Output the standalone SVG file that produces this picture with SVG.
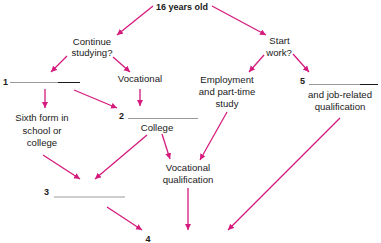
<svg xmlns="http://www.w3.org/2000/svg" width="381" height="243" viewBox="0 0 381 243">
  <style>
    .t { font-family: "Liberation Sans", Arial, sans-serif; font-size: 9.6px; fill: #1a1a1a; text-anchor: middle; }
    .n { font-family: "Liberation Sans", Arial, sans-serif; font-size: 9px; font-weight: bold; fill: #1a1a1a; }
    .blank { stroke: #9a9a9a; stroke-width: 1; }
    .blank-dark { stroke: #1a1a1a; stroke-width: 1; }
    .arrow { stroke: #d41a7c; stroke-width: 1.3; fill: none; marker-end: url(#head); }
  </style>
  <defs>
    <marker id="head" markerUnits="userSpaceOnUse" markerWidth="7" markerHeight="7" refX="6" refY="3" orient="auto">
      <path d="M0,0 L6,3 L0,6 z" fill="#d41a7c"/>
    </marker>
  </defs>
  <rect width="381" height="243" fill="#ffffff"/>

  <g id="connectors">
    <line class="arrow" x1="153" y1="6" x2="117" y2="35"/>
    <line class="arrow" x1="212" y1="6" x2="266" y2="35"/>
    <line class="arrow" x1="67" y1="56" x2="51" y2="72"/>
    <line class="arrow" x1="113" y1="57" x2="130" y2="72"/>
    <line class="arrow" x1="264" y1="55" x2="249" y2="72"/>
    <line class="arrow" x1="293" y1="54" x2="309" y2="72"/>
    <line class="arrow" x1="45" y1="89" x2="45" y2="108"/>
    <line class="arrow" x1="140" y1="89" x2="140" y2="106"/>
    <line class="arrow" x1="74" y1="90" x2="117" y2="108"/>
    <line class="arrow" x1="147" y1="135" x2="95" y2="179"/>
    <line class="arrow" x1="162" y1="134" x2="170" y2="159"/>
    <line class="arrow" x1="43" y1="155" x2="80" y2="179"/>
    <line class="arrow" x1="227" y1="112" x2="200" y2="160"/>
    <line class="arrow" x1="340" y1="118" x2="228" y2="230"/>
    <line class="arrow" x1="188" y1="188" x2="188" y2="230"/>
    <line class="arrow" x1="107" y1="207" x2="142" y2="230"/>
  </g>

  <g id="start">
    <text class="n" x="182" y="10" text-anchor="middle">16 years old</text>
  </g>

  <g id="continue-studying">
    <text class="t" x="92" y="44.5">Continue</text>
    <text class="t" x="92" y="56">studying?</text>
  </g>

  <g id="start-work">
    <text class="t" x="279.5" y="44">Start</text>
    <text class="t" x="279" y="56">work?</text>
  </g>

  <g id="blank-1">
    <text class="n" x="3" y="84.5">1</text>
    <line class="blank" x1="10" y1="82.5" x2="58" y2="82.5"/>
    <line class="blank-dark" x1="58" y1="82.5" x2="80" y2="82.5"/>
  </g>

  <g id="vocational">
    <text class="t" x="140" y="82">Vocational</text>
  </g>

  <g id="employment">
    <text class="t" x="227" y="83">Employment</text>
    <text class="t" x="227" y="95">and part-time</text>
    <text class="t" x="227" y="106.5">study</text>
  </g>

  <g id="blank-5">
    <text class="n" x="300" y="84">5</text>
    <line class="blank" x1="309" y1="84.5" x2="360" y2="84.5"/>
    <line class="blank-dark" x1="360" y1="84.5" x2="378" y2="84.5"/>
    <text class="t" x="340" y="98">and job-related</text>
    <text class="t" x="340" y="110">qualification</text>
  </g>

  <g id="sixth-form">
    <text class="t" x="42" y="121">Sixth form in</text>
    <text class="t" x="42" y="133.5">school or</text>
    <text class="t" x="42" y="146">college</text>
  </g>

  <g id="blank-2">
    <text class="n" x="119" y="118.5">2</text>
    <line class="blank" x1="128" y1="118.5" x2="198" y2="118.5"/>
    <text class="t" x="157" y="131">College</text>
  </g>

  <g id="vocational-qualification">
    <text class="t" x="188" y="171">Vocational</text>
    <text class="t" x="188" y="183">qualification</text>
  </g>

  <g id="blank-3">
    <text class="n" x="44" y="195">3</text>
    <line class="blank" x1="54" y1="197" x2="125" y2="197"/>
  </g>

  <g id="end">
    <text class="n" x="148" y="242" text-anchor="middle">4</text>
  </g>
</svg>
